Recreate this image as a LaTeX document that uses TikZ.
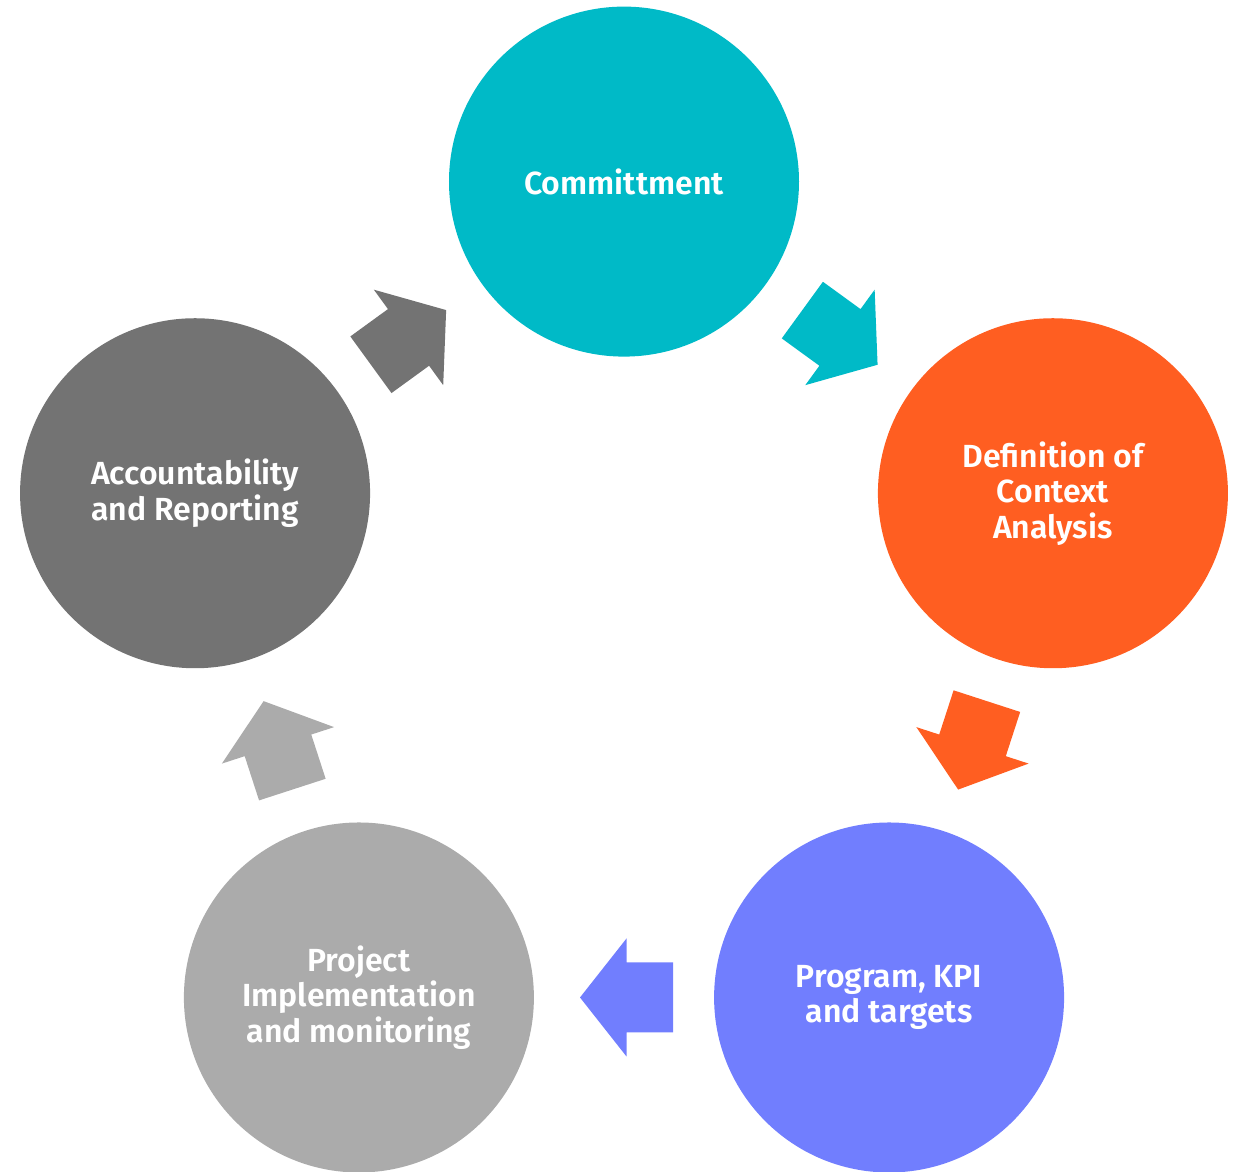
\documentclass[tikz,border=0pt]{standalone}
\usepackage{fontspec}
\setmainfont{Fira Sans}[BoldFont={Fira Sans SemiBold}]
\usetikzlibrary{calc}
\definecolor{cteal}{RGB}{0,186,199}
\definecolor{corange}{RGB}{255,94,33}
\definecolor{cblue}{RGB}{113,126,254}
\definecolor{clgray}{RGB}{171,171,171}
\definecolor{cdgray}{RGB}{115,115,115}
\tikzset{
  stage/.style={circle, minimum size=350pt, inner sep=0pt, text=white, align=center,
    font=\fontsize{32}{35.5}\selectfont\bfseries},
  blockarrow/.pic={\fill (-46.5,35) -- (0,35) -- (0,59) -- (46.5,0) -- (0,-59) -- (0,-35) -- (-46.5,-35) -- cycle;}
}
\begin{document}
\begin{tikzpicture}[x=1pt,y=1pt]
\useasboundingbox (-624,-538.4) rectangle (609,632.6);
\node[stage, fill=cteal]   (c1) at (90:451)   {Committment};
\node[stage, fill=corange] (c2) at (18:451)   {Definition of\\Context\\Analysis};
\node[stage, fill=cblue]   (c3) at (-54:451)  {Program, KPI\\and targets};
\node[stage, fill=clgray]  (c4) at (-126:451) {Project\\Implementation\\and monitoring};
\node[stage, fill=cdgray]  (c5) at (162:451)  {Accountability\\and Reporting};
\coordinate (m1) at ($(c1)!0.5!(c2)+(1.5,0)$);
\coordinate (m2) at ($(c2)!0.5!(c3)+(1.5,0)$);
\coordinate (m3) at ($(c3)!0.5!(c4)+(2.5,0)$);
\coordinate (m4) at ($(c4)!0.5!(c5)+(1,0)$);
\coordinate (m5) at ($(c5)!0.5!(c1)+(-1,0)$);
\pic[fill=cteal, rotate=-36] at (m1) {blockarrow};
\pic[fill=corange, rotate=-108] at (m2) {blockarrow};
\pic[fill=cblue, rotate=180] at (m3) {blockarrow};
\pic[fill=clgray, rotate=108] at (m4) {blockarrow};
\pic[fill=cdgray, rotate=36] at (m5) {blockarrow};
\end{tikzpicture}
\end{document}
